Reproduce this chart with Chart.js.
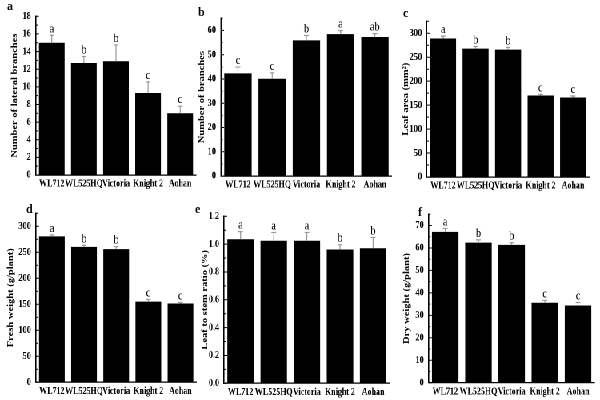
<!DOCTYPE html>
<html>
<head>
<meta charset="utf-8">
<script src="https://cdn.jsdelivr.net/npm/chart.js@4.4.1/dist/chart.umd.min.js"></script>
<style>
  body { margin: 0; background: #fff; width: 600px; height: 400px; overflow: hidden; position: relative; }
  #wrap { position: absolute; left: 0; top: 0; width: 750px; height: 400px; transform: scaleX(0.8); transform-origin: 0 0; }
  #wrap canvas { position: absolute; }
  .tag { position: absolute; font: bold 12px "Liberation Serif", serif; line-height: 12px; color: #000; }
</style>
</head>
<body>
<div id="wrap"></div>
<div class="tag" style="left:7px;top:0px">a</div>
<div class="tag" style="left:198px;top:6px">b</div>
<div class="tag" style="left:403px;top:7px">c</div>
<div class="tag" style="left:26px;top:203px">d</div>
<div class="tag" style="left:195px;top:203px">e</div>
<div class="tag" style="left:418px;top:206px">f</div>
<script>
// Alfalfa cultivars, six traits

var cultivars = ['WL712', 'WL525HQ', 'Victoria', 'Knight 2', 'Aohan'];

var lateralBranches = [15.0, 12.7, 12.9, 9.3, 7.0];
var lateralBranchesErr = [0.85, 0.75, 1.85, 1.25, 0.8];
var lateralBranchesSig = ['a', 'b', 'b', 'c', 'c'];
var lateralTicks = [0, 2, 4, 6, 8, 10, 12, 14, 16, 18];

var branches = [42.3, 40.1, 55.9, 58.5, 57.3];
var branchesErr = [2.6, 2.4, 2.0, 1.4, 1.4];
var branchesSig = ['c', 'c', 'b', 'a', 'ab'];
var branchesTicks = [0, 10, 20, 30, 40, 50, 60];

var leafArea = [289, 268, 266, 170, 166];
var leafAreaErr = [5, 4.5, 4.5, 2.5, 3];
var leafAreaSig = ['a', 'b', 'b', 'c', 'c'];
var leafAreaTicks = [0, 50, 100, 150, 200, 250, 300];

var freshWeight = [280.5, 260.5, 256, 155, 151.5];
var freshWeightErr = [3, 3, 5, 4.5, 2];
var freshWeightSig = ['a', 'b', 'b', 'c', 'c'];
var freshWeightTicks = [0, 50, 100, 150, 200, 250, 300];

var leafStem = [1.035, 1.024, 1.024, 0.961, 0.970];
var leafStemErr = [0.055, 0.06, 0.06, 0.035, 0.078];
var leafStemSig = ['a', 'a', 'a', 'b', 'b'];
var leafStemTicks = [0, 0.2, 0.4, 0.6, 0.8, 1.0, 1.2];

var dryWeight = [67.2, 62.4, 61.4, 35.6, 34.4];
var dryWeightErr = [1.5, 1.2, 1.0, 1.1, 1.3];
var dryWeightSig = ['a', 'b', 'b', 'c', 'c'];
var dryWeightTicks = [0, 10, 20, 30, 40, 50, 60, 70];

var SX = 0.8;   // wrapper is squeezed horizontally
var FONT = '"Liberation Serif", serif';

// error bars, letters, inward y ticks
var extrasPlugin = {
  id: 'extras',
  afterDatasetsDraw: function(chart, args, opts) {
    var ctx = chart.ctx;
    var y = chart.scales.y;
    var meta = chart.getDatasetMeta(0);
    ctx.save();
    meta.data.forEach(function(bar, i) {
      var top = y.getPixelForValue(opts.values[i] + opts.errors[i]);
      ctx.strokeStyle = '#9a9a9a';
      ctx.lineWidth = 1.2;
      ctx.beginPath();
      ctx.moveTo(bar.x, bar.y);
      ctx.lineTo(bar.x, top);
      ctx.moveTo(bar.x - 3, top);
      ctx.lineTo(bar.x + 3, top);
      ctx.stroke();
      ctx.fillStyle = '#000';
      ctx.font = '13px ' + FONT;
      ctx.textAlign = 'center';
      ctx.textBaseline = 'alphabetic';
      ctx.fillText(opts.letters[i], bar.x, top - 3);
    });

    var left = chart.chartArea.left;
    var ticks = opts.ticks;
    var step = ticks[1] - ticks[0];
    ctx.strokeStyle = '#000';
    ctx.lineWidth = 1;
    ctx.beginPath();
    ticks.forEach(function(v) {
      var py = y.getPixelForValue(v);
      ctx.moveTo(left, py); ctx.lineTo(left + 4, py);
      var mid = v + step / 2;
      if (mid <= y.max + 1e-9) {
        var pm = y.getPixelForValue(mid);
        ctx.moveTo(left, pm); ctx.lineTo(left + 2.5, pm);
      }
    });
    ctx.stroke();
    ctx.restore();
  }
};

function makePanel(box, title, values, errors, letters, ticks, max, decimals) {
  var left = (box.titleX - 5.1) / SX;
  var yW = (box.axisX - box.titleX + 5.1) / SX;
  var w = (box.right - box.titleX + 5.1) / SX;
  var cw = Math.ceil(w);
  var top = box.top - 8;
  var ch = Math.ceil(box.bottom + 22 - top);

  var c = document.createElement('canvas');
  c.width = cw; c.height = ch;
  c.style.left = left + 'px';
  c.style.top = top + 'px';
  c.style.width = cw + 'px';
  c.style.height = ch + 'px';
  document.getElementById('wrap').appendChild(c);

  new Chart(c.getContext('2d'), {
    type: 'bar',
    data: {
      labels: cultivars,
      datasets: [{ data: values, backgroundColor: '#000', borderWidth: 0, barPercentage: 0.8, categoryPercentage: 1 }]
    },
    options: {
      responsive: false, animation: false, devicePixelRatio: 2,
      layout: { padding: { top: 8, right: cw - w, left: 0, bottom: ch - (box.bottom + 22 - top) } },
      plugins: {
        legend: { display: false }, tooltip: { enabled: false },
        extras: { values: values, errors: errors, letters: letters, ticks: ticks }
      },
      scales: {
        x: {
          grid: { display: false, drawTicks: false },
          border: { display: true, color: '#000', width: 1.2 },
          ticks: { color: '#000', font: { family: FONT, size: 10, weight: 'bold' }, padding: 3, autoSkip: false, maxRotation: 0 },
          afterFit: function(s) { s.height = 22; }
        },
        y: {
          min: 0, max: max, bounds: 'data',
          grid: { display: false, drawTicks: false },
          border: { display: true, color: '#000', width: 1.5 },
          title: { display: true, text: title, color: '#000', font: { family: FONT, size: 10.5, weight: 'bold' }, padding: 0 },
          ticks: {
            color: '#000', font: { family: FONT, size: 10.5, weight: 'bold' }, padding: 6,
            callback: function(v) { return Number(v).toFixed(decimals); }
          },
          afterBuildTicks: function(s) { s.ticks = ticks.map(function(v) { return { value: v }; }); },
          afterFit: function(s) { s.width = yW; }
        }
      }
    },
    plugins: [extrasPlugin]
  });
}

makePanel({ titleX: 15, axisX: 36, right: 196.5, top: 12, bottom: 175 },
  'Number of lateral branches', lateralBranches, lateralBranchesErr, lateralBranchesSig, lateralTicks, 18, 0);
makePanel({ titleX: 202, axisX: 220.9, right: 392.1, top: 14, bottom: 176 },
  'Number of branches', branches, branchesErr, branchesSig, branchesTicks, 65, 0);
makePanel({ titleX: 406, axisX: 426.9, right: 589.4, top: 17, bottom: 177 },
  'Leaf area (mm²)', leafArea, leafAreaErr, leafAreaSig, leafAreaTicks, 325, 0);
makePanel({ titleX: 11, axisX: 36.1, right: 196.8, top: 208.5, bottom: 381.7 },
  'Fresh weight (g/plant)', freshWeight, freshWeightErr, freshWeightSig, freshWeightTicks, 325, 0);
makePanel({ titleX: 205.3, axisX: 224.2, right: 389.9, top: 212, bottom: 383.3 },
  'Leaf to stem ratio (%)', leafStem, leafStemErr, leafStemSig, leafStemTicks, 1.2, 1);
makePanel({ titleX: 406.5, axisX: 428.4, right: 594.4, top: 210, bottom: 382.7 },
  'Dry weight (g/plant)', dryWeight, dryWeightErr, dryWeightSig, dryWeightTicks, 75, 0);
</script>
</body>
</html>
